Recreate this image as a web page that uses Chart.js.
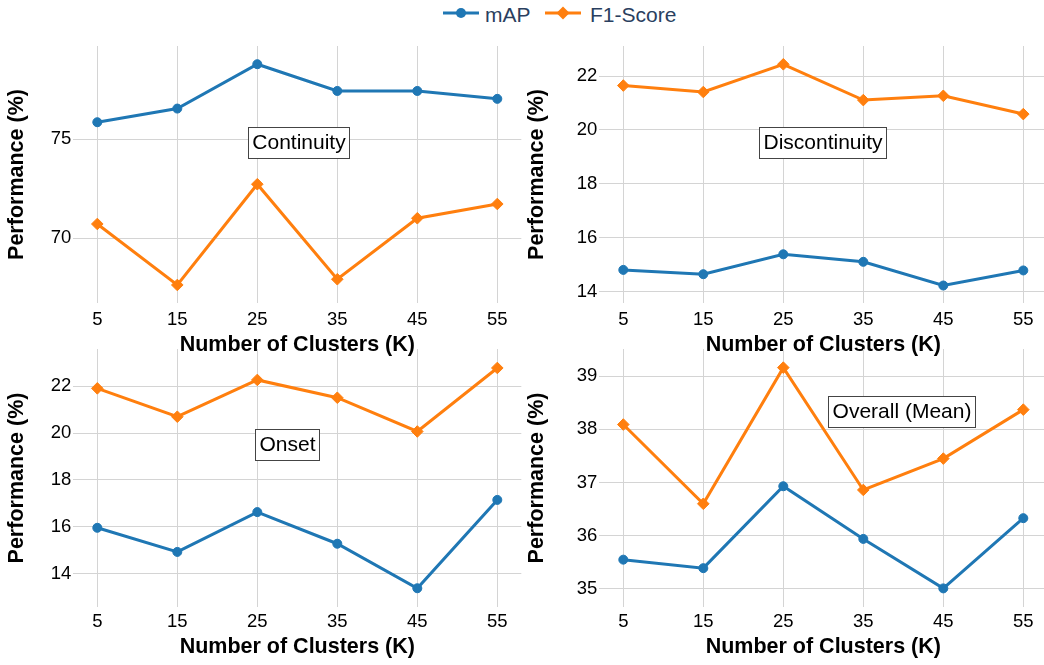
<!DOCTYPE html>
<html><head><meta charset="utf-8">
<script src="https://cdn.jsdelivr.net/npm/chart.js@4"></script>
<style>
html,body{margin:0;padding:0;background:#fff;overflow:hidden;width:1044px;height:665px;}
canvas{position:absolute;}
.lg{position:absolute;font-family:"Liberation Sans",Arial,sans-serif;font-size:21px;line-height:21px;color:#2a3f5f;white-space:nowrap;}
svg{position:absolute;}
</style></head><body>
<svg style="left:443px;top:4px" width="36" height="18"><line x1="0" y1="9" x2="36" y2="9" stroke="#1f77b4" stroke-width="3"/><circle cx="18" cy="9" r="5" fill="#1f77b4"/></svg>
<div class="lg" style="left:485px;top:4px">mAP</div>
<svg style="left:545px;top:4px" width="36" height="18"><line x1="0" y1="9" x2="36" y2="9" stroke="#ff7f0e" stroke-width="3"/><polygon points="18,2.5 24.5,9 18,15.5 11.5,9" fill="#ff7f0e"/></svg>
<div class="lg" style="left:590px;top:4px">F1-Score</div>
<canvas id="c1" width="530" height="360" style="left:0;top:0"></canvas>
<canvas id="c2" width="536" height="360" style="left:520px;top:0"></canvas>
<canvas id="c3" width="530" height="335" style="left:0;top:330px"></canvas>
<canvas id="c4" width="536" height="335" style="left:520px;top:330px"></canvas>
<script>
// ---- data ----
const clusters = [5, 15, 25, 35, 45, 55];
const xTicks = [5, 15, 25, 35, 45, 55];

const continuityMAP = [75.86, 76.55, 78.79, 77.44, 77.44, 77.04];
const continuityF1  = [70.72, 67.64, 72.73, 67.93, 71.01, 71.73];
const discontinuityMAP = [14.80, 14.64, 15.38, 15.10, 14.22, 14.78];
const discontinuityF1  = [21.65, 21.41, 22.44, 21.11, 21.27, 20.59];
const onsetMAP = [15.96, 14.93, 16.63, 15.28, 13.38, 17.15];
const onsetF1  = [21.91, 20.70, 22.27, 21.51, 20.07, 22.78];
const overallMAP = [35.55, 35.39, 36.93, 35.94, 35.01, 36.33];
const overallF1  = [38.09, 36.60, 39.16, 36.86, 37.45, 38.37];

const continuityTicks = [70, 75];
const discontinuityTicks = [14, 16, 18, 20, 22];
const onsetTicks = [14, 16, 18, 20, 22];
const overallTicks = [35, 36, 37, 38, 39];

const panelTitles = ['Continuity', 'Discontinuity', 'Onset', 'Overall (Mean)'];
const seriesNames = ['mAP', 'F1-Score'];
const xTitle = 'Number of Clusters (K)';
const yTitle = 'Performance (%)';

// ---- drawing ----
const FONT = '"Liberation Sans", Arial, sans-serif';
Chart.defaults.devicePixelRatio = 1;

const boxLabel = {
  id: 'boxLabel',
  afterDraw(chart, args, opts) {
    const {ctx, chartArea: a} = chart;
    const cx = a.left + opts.fx * (a.right - a.left);
    const cy = a.top + opts.fy * (a.bottom - a.top);
    ctx.save();
    ctx.font = '21px ' + FONT;
    const w = ctx.measureText(opts.text).width;
    const bw = Math.round(w + 8), bh = 31;
    const bx = Math.round(cx - bw / 2), by = Math.round(cy - bh / 2);
    ctx.fillStyle = '#fff';
    ctx.fillRect(bx, by, bw, bh);
    ctx.strokeStyle = '#444';
    ctx.lineWidth = 1;
    ctx.strokeRect(bx + 0.5, by + 0.5, bw, bh);
    ctx.fillStyle = '#000';
    ctx.textAlign = 'center';
    ctx.textBaseline = 'middle';
    ctx.fillText(opts.text, bx + bw / 2 + 0.5, by + bh / 2 + 1);
    ctx.restore();
  }
};

function pts(arr) { return clusters.map((k, i) => ({x: k, y: arr[i]})); }

function makeChart(id, mapArr, f1Arr, yMin, yMax, yTicks, title, fx, fy, lay) {
  new Chart(document.getElementById(id), {
    type: 'line',
    data: {
      datasets: [
        {label: seriesNames[0], data: pts(mapArr), borderColor: '#1f77b4', backgroundColor: '#1f77b4',
         borderWidth: 3, pointStyle: 'circle', pointRadius: 4.5, pointBorderWidth: 1, pointHoverRadius: 4.5, tension: 0},
        {label: seriesNames[1], data: pts(f1Arr), borderColor: '#ff7f0e', backgroundColor: '#ff7f0e',
         borderWidth: 3, pointStyle: 'rectRot', pointRadius: 5.8, pointBorderWidth: 1, pointHoverRadius: 5.8, tension: 0}
      ]
    },
    options: {
      responsive: false,
      animation: false,
      events: [],
      layout: {padding: lay.pad},
      plugins: {legend: {display: false}, tooltip: {enabled: false},
                boxLabel: {text: title, fx: fx, fy: fy}},
      scales: {
        x: {
          type: 'linear', min: 2, max: 58,
          afterBuildTicks: s => { s.ticks = xTicks.map(v => ({value: v})); },
          afterFit: s => { s.height = lay.xh; },
          grid: {color: '#d4d4d4', lineWidth: 1, drawTicks: false},
          border: {display: false},
          ticks: {color: '#000', font: {family: FONT, size: 18.5}, padding: lay.xpad, maxRotation: 0,
                  callback: v => String(v)},
          title: {display: true, text: xTitle, color: '#000', font: {family: FONT, size: 21.5, weight: 'bold'},
                  padding: {top: 0, bottom: 0}}
        },
        y: {
          min: yMin, max: yMax,
          afterBuildTicks: s => { s.ticks = yTicks.map(v => ({value: v})); },
          afterFit: s => { s.width = lay.yw; },
          grid: {color: '#d4d4d4', lineWidth: 1, drawTicks: false},
          border: {display: false},
          ticks: {color: '#000', font: {family: FONT, size: 18.5}, padding: 2, callback: v => String(v)},
          title: {display: true, text: yTitle, color: '#000', font: {family: FONT, size: 21.5, weight: 'bold'},
                  padding: {top: 4, bottom: 0}}
        }
      }
    },
    plugins: [boxLabel]
  });
}

makeChart('c1', continuityMAP, continuityF1, 66.73, 79.71, continuityTicks, panelTitles[0], 0.5016, 0.3755,
  {pad: {left: 0, top: 46, right: 8.7, bottom: 2}, xh: 55, yw: 73.3, xpad: 5.5});
makeChart('c2', discontinuityMAP, discontinuityF1, 13.57, 23.12, discontinuityTicks, panelTitles[1], 0.498, 0.3755,
  {pad: {left: 0, top: 46, right: 8.7, bottom: 2}, xh: 55, yw: 79.3, xpad: 5.5});
makeChart('c3', onsetMAP, onsetF1, 12.58, 23.59, onsetTicks, panelTitles[2], 0.477, 0.370,
  {pad: {left: 0, top: 19, right: 8.7, bottom: 5}, xh: 53, yw: 73.3, xpad: 4});
makeChart('c4', overallMAP, overallF1, 34.66, 39.51, overallTicks, panelTitles[3], 0.674, 0.241,
  {pad: {left: 0, top: 19, right: 8.7, bottom: 5}, xh: 53, yw: 79.3, xpad: 4});
</script>
</body></html>
